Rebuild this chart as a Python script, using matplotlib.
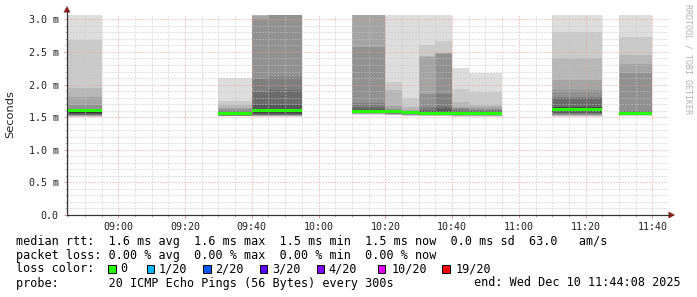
import matplotlib
matplotlib.use("Agg")
import matplotlib.pyplot as plt
from matplotlib.patches import Polygon, Rectangle
from matplotlib.lines import Line2D
from matplotlib.ticker import MultipleLocator

# ---------------- data ----------------
block_start = ["08:40", "09:30", "09:40", "09:45", "10:10", "10:20", "10:25",
               "10:30", "10:35", "10:40", "10:45", "11:10", "11:30"]
block_end = ["08:55", "09:40", "09:45", "09:55", "10:20", "10:25", "10:30",
             "10:35", "10:40", "10:45", "10:55", "11:25", "11:40"]
median_ms = [1.595, 1.56, 1.605, 1.61, 1.585, 1.58, 1.565,
             1.56, 1.56, 1.55, 1.55, 1.62, 1.55]
# smoke bands (outer -> inner), upper ends in ms
smoke_hi = [
    [3.40, 2.68, 1.95, 1.81, 1.69, 1.63, 1.62, 1.615, 1.61, 1.605],
    [2.10, 1.75, 1.69, 1.64, 1.62, 1.60, 1.59, 1.58, 1.575, 1.57],
    [3.40, 3.30, 3.20, 3.05, 3.00, 2.09, 1.89, 1.69, 1.63, 1.62],
    [3.40, 3.35, 3.30, 3.25, 3.20, 2.12, 1.91, 1.69, 1.63, 1.62],
    [3.40, 3.30, 3.20, 3.10, 2.57, 1.72, 1.65, 1.62, 1.61, 1.60],
    [3.40, 2.04, 1.91, 1.67, 1.62, 1.61, 1.60, 1.595, 1.59, 1.585],
    [3.40, 1.80, 1.66, 1.61, 1.60, 1.59, 1.585, 1.58, 1.575, 1.57],
    [3.40, 2.61, 2.44, 2.43, 1.86, 1.66, 1.61, 1.60, 1.59, 1.58],
    [3.40, 2.67, 2.49, 2.48, 2.47, 1.86, 1.66, 1.62, 1.60, 1.58],
    [2.26, 1.93, 1.74, 1.66, 1.64, 1.62, 1.60, 1.59, 1.58, 1.57],
    [2.17, 1.89, 1.69, 1.65, 1.63, 1.61, 1.60, 1.59, 1.58, 1.57],
    [3.40, 2.80, 2.40, 2.07, 1.92, 1.81, 1.80, 1.66, 1.65, 1.64],
    [3.40, 2.73, 2.45, 2.32, 2.18, 1.60, 1.59, 1.58, 1.57, 1.565],
]
# smoke bands (outer -> inner), lower ends in ms
smoke_lo = [
    [1.505, 1.51, 1.515, 1.52, 1.53, 1.535, 1.54, 1.55, 1.56, 1.57],
    [1.515, 1.517, 1.518, 1.52, 1.522, 1.525, 1.527, 1.53, 1.535, 1.54],
    [1.51, 1.515, 1.52, 1.525, 1.53, 1.535, 1.54, 1.55, 1.56, 1.575],
    [1.51, 1.515, 1.52, 1.525, 1.53, 1.535, 1.54, 1.55, 1.56, 1.575],
    [1.54, 1.545, 1.55, 1.555, 1.56, 1.562, 1.565, 1.567, 1.57, 1.572],
    [1.53, 1.535, 1.54, 1.545, 1.55, 1.555, 1.56, 1.562, 1.565, 1.57],
    [1.52, 1.525, 1.53, 1.535, 1.54, 1.545, 1.55, 1.552, 1.555, 1.56],
    [1.515, 1.52, 1.525, 1.53, 1.535, 1.54, 1.545, 1.55, 1.552, 1.555],
    [1.515, 1.52, 1.525, 1.53, 1.535, 1.54, 1.545, 1.55, 1.552, 1.555],
    [1.51, 1.515, 1.52, 1.525, 1.53, 1.535, 1.54, 1.542, 1.545, 1.548],
    [1.51, 1.515, 1.52, 1.525, 1.53, 1.535, 1.54, 1.542, 1.545, 1.548],
    [1.51, 1.515, 1.52, 1.53, 1.54, 1.55, 1.56, 1.57, 1.58, 1.60],
    [1.52, 1.525, 1.53, 1.535, 1.54, 1.542, 1.545, 1.547, 1.548, 1.549],
]
x_tick_labels = ["09:00", "09:20", "09:40", "10:00", "10:20", "10:40", "11:00", "11:20", "11:40"]
y_tick_values = [0.0, 0.5, 1.0, 1.5, 2.0, 2.5, 3.0]
y_tick_labels = ["0.0", "0.5 m", "1.0 m", "1.5 m", "2.0 m", "2.5 m", "3.0 m"]
loss_labels = ["0", "1/20", "2/20", "3/20", "4/20", "10/20", "19/20"]
loss_colors = ["#26ff00", "#00b8ff", "#0059ff", "#5e00ff", "#7e00ff", "#dd00ff", "#ff0000"]
line_rtt = "median rtt:  1.6 ms avg  1.6 ms max  1.5 ms min  1.5 ms now  0.0 ms sd  63.0   am/s"
line_loss = "packet loss: 0.00 % avg  0.00 % max  0.00 % min  0.00 % now"
line_probe = "probe:       20 ICMP Echo Pings (56 Bytes) every 300s"
line_end = "end: Wed Dec 10 11:44:08 2025"
view_start = "08:44:38"
view_end = "11:44:38"

# ---------------- helpers ----------------
W, H = 697, 297


def tmin(s):
    parts = [int(p) for p in s.split(":")]
    v = parts[0] * 60 + parts[1]
    if len(parts) > 2:
        v += parts[2] / 60.0
    return v


def fx(x):
    return x / W


def fy(y):
    return 1 - y / H


gray_levels = [int(190 / 10 * (10 - i)) + 50 for i in range(1, 11)]
band_colors = ["#%02x%02x%02x" % (g, g, g) for g in gray_levels]

MONO = "DejaVu Sans Mono"

fig = plt.figure(figsize=(W / 100, H / 100), dpi=100, facecolor="white")
ax_l, ax_r, ax_t, ax_b = 67, 667.8, 15, 215
ax = fig.add_axes([fx(ax_l), fy(ax_b), (ax_r - ax_l) / W, (ax_b - ax_t) / H])
ax.set_facecolor("white")

x0, x1 = tmin(view_start), tmin(view_end)
ax.set_xlim(x0, x1)
ax.set_ylim(0, 3.067)

# smoke
for s, e, his, los in zip(block_start, block_end, smoke_hi, smoke_lo):
    xs = [tmin(s), tmin(e)]
    for i in range(10):
        ax.fill_between(xs, [los[i]] * 2, [his[i]] * 2, color=band_colors[i],
                        linewidth=0, zorder=1)

# median
half = 0.023
for s, e, m in zip(block_start, block_end, median_ms):
    xs = [tmin(s), tmin(e)]
    ax.fill_between(xs, [m - half] * 2, [m + half] * 2, color=loss_colors[0],
                    linewidth=0, zorder=4)

# grid & ticks
xt = [tmin(l) for l in x_tick_labels]
ax.set_xticks(xt)
ax.set_xticklabels(x_tick_labels, fontfamily=MONO, fontsize=7.2)
ax.xaxis.set_minor_locator(MultipleLocator(5))
ax.set_yticks(y_tick_values)
ax.set_yticklabels(y_tick_labels, fontfamily=MONO, fontsize=7.2)
ax.yaxis.set_minor_locator(MultipleLocator(0.1))
ax.set_axisbelow(False)
dot = (0, (1, 2))
ax.grid(which="minor", color="#c4c4c4", linestyle=dot, linewidth=0.72)
ax.grid(which="major", color="#ec9a9a", linestyle=dot, linewidth=0.72)
for gl in ax.get_xgridlines() + ax.get_ygridlines():
    gl.set_zorder(3)
ax.tick_params(which="major", length=2.5, width=0.72, color="#ec9a9a",
               direction="out", pad=2.6, labelcolor="#222222")
ax.tick_params(which="minor", length=1.6, width=0.72, color="#b8b8b8", direction="out")
ax.tick_params(axis="y", which="major", pad=3.4)

for side in ["top", "right"]:
    ax.spines[side].set_visible(False)
for side in ["left", "bottom"]:
    ax.spines[side].set_color("#333333")
    ax.spines[side].set_linewidth(0.8)
    ax.spines[side].set_zorder(5)

# axis extension and arrows
arrow_c = "#8b1c1c"
fig.add_artist(Line2D([fx(67), fx(67)], [fy(215), fy(11)], color="#333333", lw=0.8,
                      transform=fig.transFigure))
fig.add_artist(Line2D([fx(67), fx(669)], [fy(215), fy(215)], color="#333333", lw=0.8,
                      transform=fig.transFigure))
fig.add_artist(Polygon([[fx(67), fy(6)], [fx(63.5), fy(12.5)], [fx(70.5), fy(12.5)]],
                       closed=True, color=arrow_c, transform=fig.transFigure, lw=0))
fig.add_artist(Polygon([[fx(675), fy(215)], [fx(668.5), fy(211.5)], [fx(668.5), fy(218.5)]],
                       closed=True, color=arrow_c, transform=fig.transFigure, lw=0))

# labels
fig.text(fx(10.5), fy(114), "Seconds", rotation=90, ha="center", va="center",
         fontsize=8.2, fontfamily="DejaVu Sans", color="#222222")
fig.text(fx(688), fy(4), "RRDTOOL / TOBI OETIKER", rotation=270, ha="center", va="top",
         fontsize=6.0, fontfamily=MONO, color="#b0b0b0")

# legend
LF = 8.5
fig.text(fx(16), fy(241), line_rtt, ha="left", va="center", fontsize=LF, fontfamily=MONO)
fig.text(fx(16), fy(255), line_loss, ha="left", va="center", fontsize=LF, fontfamily=MONO)
fig.text(fx(16), fy(269), "loss color:", ha="left", va="center", fontsize=LF, fontfamily=MONO)
box_x = [108.3, 146.7, 203.3, 260.0, 316.7, 377.7, 442.3]
lab_x = [119.8, 158.3, 215.0, 271.7, 328.3, 391.7, 456.0]
for bx, lx, lab, c in zip(box_x, lab_x, loss_labels, loss_colors):
    fig.add_artist(Rectangle((fx(bx), fy(272.7)), 7.4 / W, 7.6 / H, facecolor=c,
                             edgecolor="black", lw=0.7, transform=fig.transFigure))
    fig.text(fx(lx), fy(269), lab, ha="left", va="center", fontsize=LF, fontfamily=MONO)
fig.text(fx(16), fy(283), line_probe, ha="left", va="center", fontsize=LF, fontfamily=MONO)
fig.text(fx(681), fy(283), line_end, ha="right", va="center", fontsize=LF, fontfamily=MONO)

fig.savefig("out.png", dpi=100, facecolor="white")
